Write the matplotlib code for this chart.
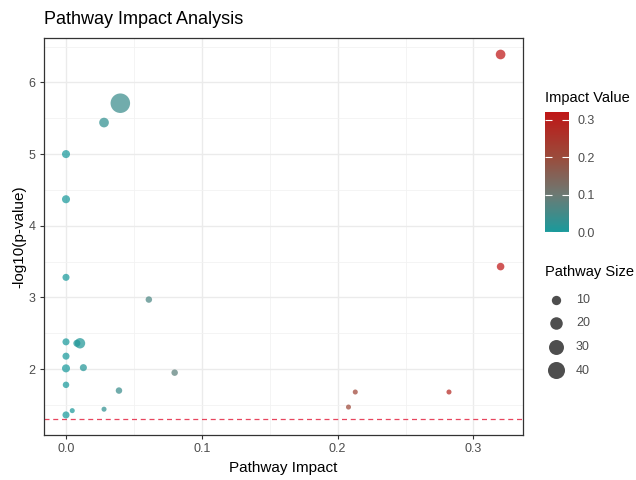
import numpy as np
import matplotlib
matplotlib.use('Agg')
from matplotlib import pyplot as plt
from matplotlib.colors import LinearSegmentedColormap, Normalize
from matplotlib.colorbar import ColorbarBase

plt.rcParams['font.family'] = ['Liberation Sans', 'DejaVu Sans']

# pathway impact, -log10(p) and pathway size for each pathway
impact = [0.0, 0.0, 0.040, 0.028, 0.320, 0.320, 0.213, 0.208, 0.282, 0.0,
          0.061, 0.0, 0.008, 0.0103, 0.0, 0.0, 0.0128, 0.080, 0.0, 0.039,
          0.028, 0.0046, 0.0]
logp = [5.00, 4.37, 5.71, 5.44, 6.39, 3.43, 1.68, 1.47, 1.68, 3.28,
        2.97, 2.38, 2.36, 2.36, 2.18, 2.01, 2.02, 1.95, 1.78, 1.70,
        1.44, 1.42, 1.36]
pathwaySize = [7, 7, 54, 11, 11, 6, 2, 2, 2, 5,
               4, 5, 5, 13, 5, 7, 5, 4, 4, 4,
               2, 2, 5]
sizeBreaks = [10, 20, 30, 40]
impactBreaks = [0.0, 0.1, 0.2, 0.3]
pThreshold = 0.05


def markerArea(s):
    # diameter grows with sqrt of pathway size, returned as area in pt^2
    d = 1.6 + 2.44 * np.sqrt(np.asarray(s, dtype=float))
    return (d * 0.72) ** 2


cmap = LinearSegmentedColormap.from_list(
    'impact', [(0.0, '#1a9a9c'), (0.31, '#6c7a74'), (0.62, '#9a4c3c'), (1.0, '#bf1616')])
norm = Normalize(vmin=0.0, vmax=0.32)

fig = plt.figure(figsize=(6.36, 4.8), dpi=100)
ax = fig.add_axes([44/636, 1 - 435/480, 479/636, 397/480])

ax.scatter(impact, logp, s=markerArea(pathwaySize), c=impact, cmap=cmap, norm=norm,
           alpha=0.72, linewidths=0, zorder=3)
ax.axhline(-np.log10(pThreshold), color='#e8455e', linestyle=(0, (4, 3)), linewidth=0.9, zorder=2)

ax.set_xlim(-0.0162, 0.3365)
ax.set_ylim(1.08, 6.62)
ax.set_xticks([0.0, 0.1, 0.2, 0.3])
ax.set_xticklabels(['0.0', '0.1', '0.2', '0.3'])
ax.set_yticks([2, 3, 4, 5, 6])
ax.set_xticks([0.05, 0.15, 0.25], minor=True)
ax.set_yticks([1.5, 2.5, 3.5, 4.5, 5.5, 6.5], minor=True)
ax.grid(which='major', color='#ebebeb', linewidth=1.0, zorder=0)
ax.grid(which='minor', color='#f2f2f2', linewidth=0.6, zorder=0)
ax.set_axisbelow(True)
ax.tick_params(which='major', length=3, color='#333333', labelsize=9, labelcolor='#4d4d4d', pad=3)
ax.tick_params(which='minor', length=0)
for sp in ax.spines.values():
    sp.set_color('#333333')
    sp.set_linewidth(0.9)

ax.set_xlabel('Pathway Impact', fontsize=11, labelpad=4)
ax.set_ylabel('-log10(p-value)', fontsize=11, labelpad=2)
fig.text(44/636, 1 - 20/480, 'Pathway Impact Analysis', fontsize=13, va='center', ha='left')

# colour bar legend
cax = fig.add_axes([545/636, 1 - 232/480, 24/636, 120/480])
cb = ColorbarBase(cax, cmap=cmap, norm=norm, orientation='vertical')
cb.outline.set_visible(False)
cb.set_ticks(impactBreaks)
cb.set_ticklabels(['0.0', '0.1', '0.2', '0.3'])
cax.tick_params(left=True, right=True, direction='in', color='white', length=5,
                width=0.8, labelsize=9, labelcolor='#4d4d4d', pad=6)
fig.text(545/636, 1 - 98/480, 'Impact Value', fontsize=10.5, va='center', ha='left')

# size legend
fig.text(545/636, 1 - 272/480, 'Pathway Size', fontsize=10.5, va='center', ha='left')
handles = [ax.scatter([], [], s=markerArea(b), color='#222222', alpha=0.8, linewidths=0)
           for b in sizeBreaks]
leg = fig.legend(handles, [str(b) for b in sizeBreaks], loc='upper left',
                 bbox_to_anchor=(541/636, 1 - 289/480), frameon=False, fontsize=9,
                 labelspacing=0.92, handletextpad=0.8, borderaxespad=0, handlelength=1.6)
for t in leg.get_texts():
    t.set_color('#4d4d4d')

plt.savefig('out.png', dpi=100)
